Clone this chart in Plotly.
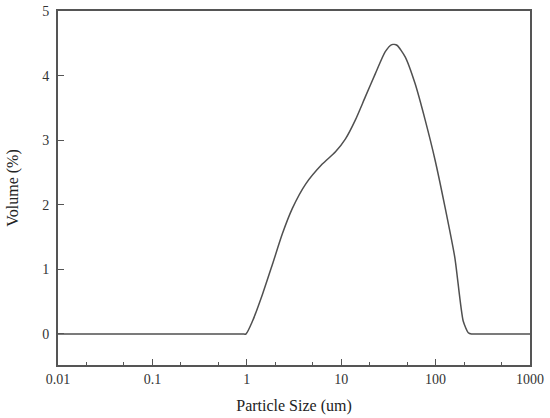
import plotly.graph_objects as go

size_um = [0.01, 0.9, 0.98, 1.15, 1.47, 1.87, 2.38, 3.03, 4.2, 6.3, 8.7, 11.1, 14.1, 18.0, 23.0,
           29.3, 34.4, 38.9, 47.6, 60.5, 77.6, 98.8, 126, 160, 196, 222, 240, 265, 1000]
volume_pct = [0, 0, 0, 0.2, 0.62, 1.08, 1.55, 1.94, 2.32, 2.63, 2.82, 3.02, 3.31, 3.67, 4.03,
              4.37, 4.48, 4.47, 4.29, 3.88, 3.31, 2.69, 1.96, 1.18, 0.2, 0.02, 0, 0, 0]
y_ticks = [0, 1, 2, 3, 4, 5]
x_ticks = [0.01, 0.1, 1, 10, 100, 1000]
x_labels = ["0.01", "0.1", "1", "10", "100", "1000"]

axcol = "#555555"
font = dict(family="Liberation Serif", size=14, color="#333333")

fig = go.Figure(go.Scatter(x=size_um, y=volume_pct, mode="lines",
                           line=dict(color="#505050", width=1.5, shape="spline", smoothing=0.6)))
fig.update_layout(
    width=550, height=418, paper_bgcolor="white", plot_bgcolor="white",
    margin=dict(l=58, r=20, t=11, b=53), showlegend=False, font=font,
    xaxis=dict(type="log", range=[-2, 3], tickvals=x_ticks, ticktext=x_labels, automargin=False,
               ticks="inside", ticklen=6, tickcolor=axcol, showgrid=False, zeroline=False,
               showline=True, linecolor=axcol, linewidth=2, mirror=True, ticklabeloverflow="allow",
               minor=dict(ticks="inside", ticklen=3, tickcolor=axcol, showgrid=False),
               title=dict(text="Particle Size (um)", standoff=14,
                          font=dict(size=16, family="Liberation Serif", color="#222")),
               tickfont=dict(size=14)),
    yaxis=dict(range=[-0.48, 5], tickvals=y_ticks, ticks="inside", ticklen=6, tickcolor=axcol,
               showgrid=False, zeroline=False, showline=True, linecolor=axcol, linewidth=2, mirror=True,
               ticklabeloverflow="allow", automargin=False, ticklabelstandoff=4,
               title=dict(text="Volume (%)", standoff=20,
                          font=dict(size=16, family="Liberation Serif", color="#222")),
               tickfont=dict(size=14)),
)
fig.write_html("out.html", config={"displayModeBar": False},
               post_script="document.body.style.margin='0';document.body.style.overflow='hidden';")
